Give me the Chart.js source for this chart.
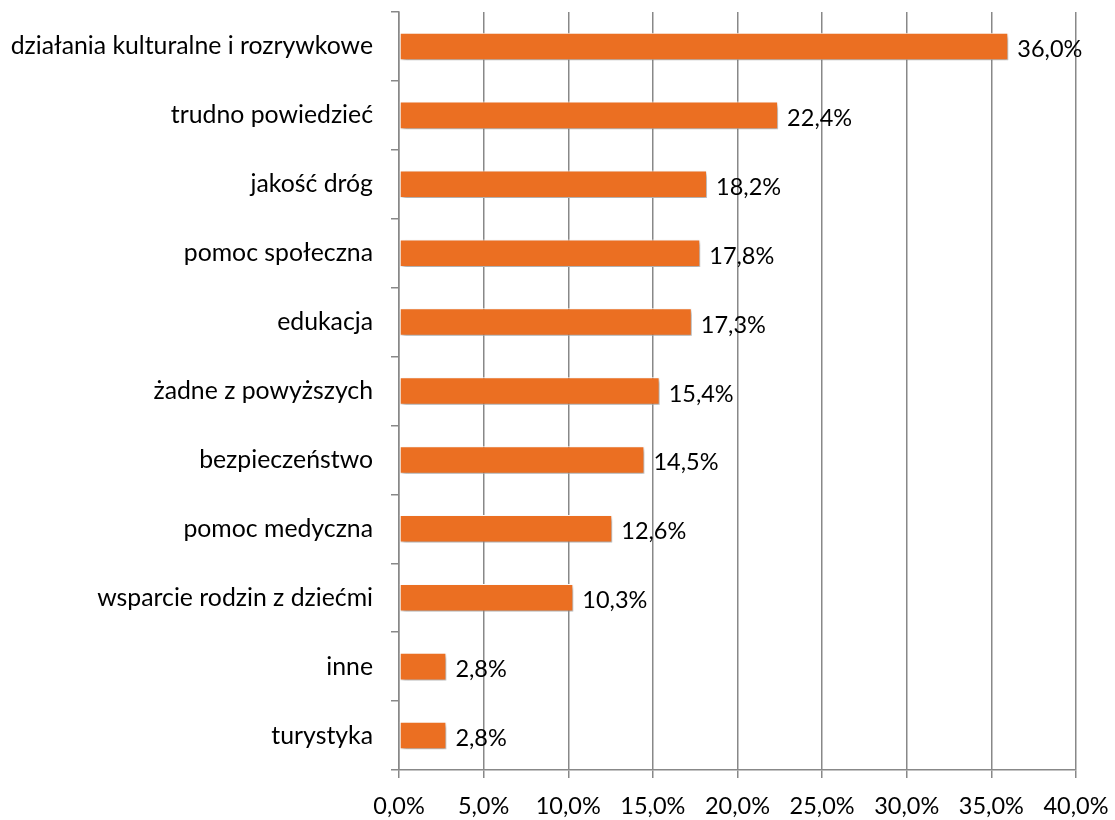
<!DOCTYPE html>
<html>
<head>
<meta charset="utf-8">
<script src="https://cdn.jsdelivr.net/npm/chart.js@4.4.0/dist/chart.umd.min.js"></script>
<style>
html,body{margin:0;padding:0;background:#fff;}
#wrap{width:1115px;height:820px;position:relative;}
</style>
</head>
<body>
<div id="wrap"><canvas id="c"></canvas></div>
<script>
const categories = [
  "działania kulturalne i rozrywkowe",
  "trudno powiedzieć",
  "jakość dróg",
  "pomoc społeczna",
  "edukacja",
  "żadne z powyższych",
  "bezpieczeństwo",
  "pomoc medyczna",
  "wsparcie rodzin z dziećmi",
  "inne",
  "turystyka"
];
const values = [36.0, 22.4, 18.2, 17.8, 17.3, 15.4, 14.5, 12.6, 10.3, 2.8, 2.8];
const xTicks = [0, 5, 10, 15, 20, 25, 30, 35, 40];

const FONT = "Lato, 'Open Sans', sans-serif";
const fmt = v => v.toFixed(1).replace('.', ',') + '%';

const shadowPlugin = {
  id: 'shadow',
  beforeDatasetsDraw(chart) {
    const ctx = chart.ctx;
    ctx.save();
    ctx.shadowColor = 'rgba(0,0,0,0.35)';
    ctx.shadowBlur = 4;
    ctx.shadowOffsetX = 2;
    ctx.shadowOffsetY = 3;
  },
  afterDatasetsDraw(chart) {
    chart.ctx.restore();
  }
};

const labelPlugin = {
  id: 'barLabels',
  afterDatasetsDraw(chart) {
    const ctx = chart.ctx;
    const meta = chart.getDatasetMeta(0);
    ctx.save();
    ctx.font = "23.5px " + FONT;
    ctx.fillStyle = '#000';
    ctx.textAlign = 'left';
    ctx.textBaseline = 'middle';
    meta.data.forEach((bar, i) => {
      ctx.fillText(fmt(values[i]), bar.x + 9, bar.y + 3);
    });
    ctx.restore();
  }
};

new Chart(document.getElementById('c'), {
  type: 'bar',
  data: {
    labels: categories,
    datasets: [{
      data: values,
      backgroundColor: '#EB6F22',
      borderColor: '#ffffff',
      borderWidth: 1,
      borderSkipped: false,
      categoryPercentage: 1.0,
      barPercentage: 0.4
    }]
  },
  options: {
    indexAxis: 'y',
    responsive: true,
    maintainAspectRatio: false,
    animation: false,
    layout: { padding: { top: 12, right: 39, bottom: 0, left: 0 } },
    plugins: { legend: { display: false }, tooltip: { enabled: false } },
    scales: {
      x: {
        min: 0, max: 40,
        afterBuildTicks(scale) { scale.ticks = xTicks.map(v => ({ value: v })); },
        afterFit(scale) { scale.height = 50; scale.paddingLeft = 0; scale.paddingRight = 0; },
        grid: { color: '#888888', lineWidth: 1.5, tickLength: 8, drawOnChartArea: true },
        border: { display: true, color: '#888888', width: 1.5 },
        ticks: {
          font: { family: FONT, size: 23.5 }, color: '#000', padding: 14,
          maxRotation: 0,
          callback: v => v.toFixed(1).replace('.', ',') + '%'
        }
      },
      y: {
        afterFit(scale) { scale.width = 399; scale.paddingTop = 0; scale.paddingBottom = 0; },
        grid: { offset: true, drawOnChartArea: false, color: '#888888', lineWidth: 1.5, tickLength: 8 },
        border: { display: true, color: '#888888', width: 1.5 },
        ticks: { font: { family: FONT, size: 24.8 }, color: '#000', padding: 18 }
      }
    }
  },
  plugins: [shadowPlugin, labelPlugin]
});
</script>
</body>
</html>
